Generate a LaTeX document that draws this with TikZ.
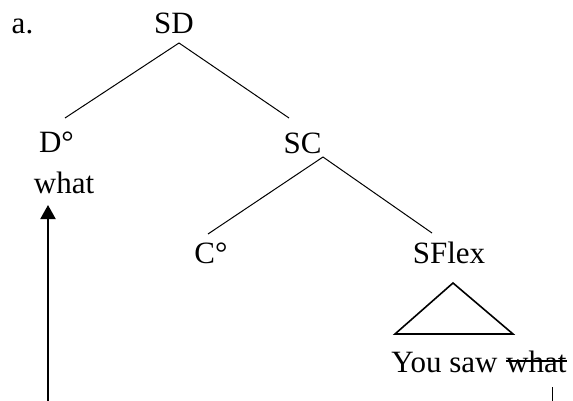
\documentclass[tikz,border=0pt]{standalone}
\usepackage{fontspec}
\setmainfont{Liberation Serif}
\usetikzlibrary{arrows.meta,calc}
\tikzset{
    >=Stealth,
    lbl/.style={inner sep=0pt,anchor=base},
    branch/.style={line width=0.5pt},
    roof/.style={line width=0.8pt,line join=miter},
    move/.style={line width=1pt,-{Triangle[width=7.5pt,length=7pt]}}
}
\begin{document}
\begin{tikzpicture}[x=0.5pt,y=-0.5pt,font=\fontsize{15.5}{18}\selectfont]
    \useasboundingbox (0,0) rectangle (573,401);

    \node[lbl] (ex) at (22.5,34) {a.};
    \node[lbl] (sd) at (174,34) {SD};
    \node[lbl] (dzero) at (56.5,153) {D°};
    \node[lbl] (what) at (64,193) {what};
    \node[lbl] (sc) at (302.5,154) {SC};
    \node[lbl] (czero) at (211,263) {C°};
    \node[lbl] (sflex) at (449,263) {SFlex};
    \node[lbl,anchor=base west] (ip) at (391,372) {You saw};
    \node[lbl,anchor=base west] (gone) at ($(ip.base east)+(7.75,0)$) {what};

    % branches
    \draw[branch] ($(sd.base)+(5,9)$) -- ($(dzero.base)+(8.5,-35)$);
    \draw[branch] ($(sd.base)+(5,9)$) -- ($(sc.base)+(-13.5,-36)$);
    \draw[branch] ($(sc.base)+(20.5,3)$) -- ($(czero.base)+(-3,-29)$);
    \draw[branch] ($(sc.base)+(20.5,3)$) -- ($(sflex.base)+(-17,-30)$);

    % roof over SFlex
    \draw[roof] ($(ip.base west)+(62,-89)$) -- ($(ip.base west)+(122,-38)$) -- ($(ip.base west)+(4,-38)$) -- cycle;

    % struck-out copy
    \draw[line width=0.7pt] ($(gone.base west)+(0,-11)$) -- ($(gone.base east)+(0,-11)$);

    % movement
    \coordinate (trace) at (48,401);
    \coordinate (gap) at (552,401);
    \draw[move] (trace) -- ($(what.base)+(-16,12)$);
    \draw[branch] (gap) -- ++(0,-14);
\end{tikzpicture}
\end{document}
